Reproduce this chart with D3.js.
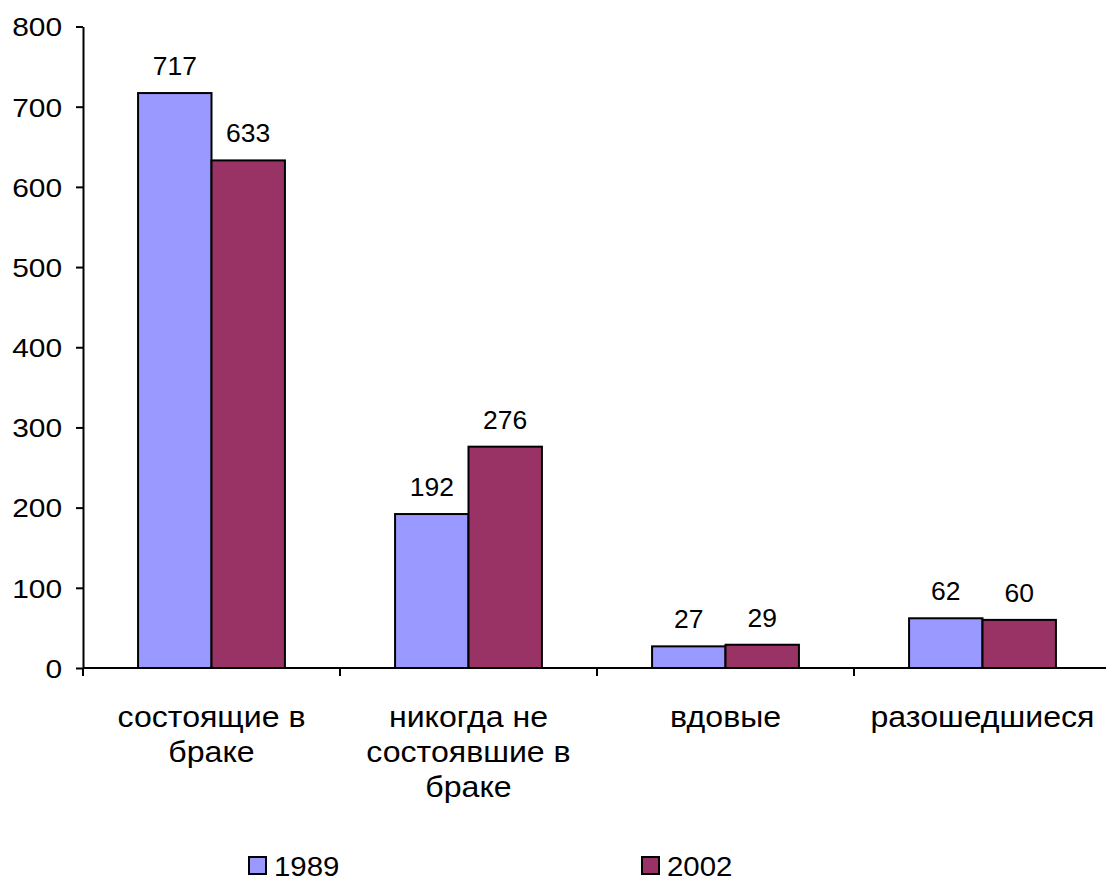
<!DOCTYPE html>
<html><head><meta charset="utf-8">
<script src="https://cdn.jsdelivr.net/npm/d3@7"></script>
<style>
html,body{margin:0;padding:0;background:#fff;}
svg{display:block;font-family:"Liberation Sans",Arial,sans-serif;}
</style></head>
<body>
<svg id="chart" width="1106" height="882"></svg>
<script>
const categories = [
  ["состоящие в", "браке"],
  ["никогда не", "состоявшие в", "браке"],
  ["вдовые"],
  ["разошедшиеся"]
];
const seriesNames = ["1989", "2002"];
const values1989 = [717, 192, 27, 62];
const values2002 = [633, 276, 29, 60];
const yTicks = [0, 100, 200, 300, 400, 500, 600, 700, 800];
const colors = ["#9999FF", "#993366"];

const svg = d3.select("#chart");
const plotLeft = 83, plotRight = 1111, plotTop = 26.5, plotBottom = 668;

const catKeys = categories.map((c, i) => i);
const x = d3.scaleBand().domain(catKeys).range([plotLeft, plotRight]).paddingInner(0).paddingOuter(0);
const x1 = d3.scaleBand().domain(seriesNames).range([0, x.bandwidth()]).paddingInner(0).paddingOuter(0.75);
const y = d3.scaleLinear().domain([0, 800]).range([plotBottom, plotTop]);

const series = [values1989, values2002];

// bars
series.forEach((vals, si) => {
  svg.append("g").selectAll("rect").data(vals).join("rect")
    .attr("x", (d, i) => x(i) + x1(seriesNames[si]))
    .attr("y", d => y(d))
    .attr("width", x1.bandwidth())
    .attr("height", d => y(0) - y(d))
    .attr("fill", colors[si])
    .attr("stroke", "#000")
    .attr("stroke-width", 2);
  svg.append("g").selectAll("text").data(vals).join("text")
    .attr("transform", (d, i) => `translate(${x(i) + x1(seriesNames[si]) + x1.bandwidth() / 2},${y(d) - 18}) scale(1.06,1)`)
    .attr("text-anchor", "middle")
    .attr("font-size", 25)
    .attr("fill", "#000")
    .text(d => d);
});

// y axis
const yAxis = d3.axisLeft(y).tickValues(yTicks).tickSize(7).tickPadding(8).tickSizeOuter(0);
const gy = svg.append("g").attr("transform", `translate(${plotLeft},0)`).call(yAxis);
gy.select(".domain").attr("stroke", "#000").attr("stroke-width", 2);
gy.selectAll(".tick line").attr("stroke", "#000").attr("stroke-width", 2);
gy.selectAll(".tick text")
  .attr("font-size", 26)
  .attr("font-family", "Liberation Sans, Arial, sans-serif")
  .attr("fill", "#000")
  .attr("x", -21 / 1.15)
  .attr("dy", "0.36em")
  .attr("transform", "scale(1.15,1)");

// x axis line
svg.append("line").attr("x1", plotLeft).attr("x2", plotRight).attr("y1", plotBottom).attr("y2", plotBottom)
  .attr("stroke", "#000").attr("stroke-width", 2);
// boundary ticks
const bounds = catKeys.map(i => x(i));
svg.append("g").selectAll("line").data(bounds).join("line")
  .attr("x1", d => d).attr("x2", d => d)
  .attr("y1", plotBottom).attr("y2", plotBottom + 8)
  .attr("stroke", "#000").attr("stroke-width", 2);

// category labels
const catG = svg.append("g").selectAll("text").data(categories).join("text")
  .attr("transform", (d, i) => `translate(${x(i) + x.bandwidth() / 2},0) scale(1.07,1)`)
  .attr("text-anchor", "middle")
  .attr("font-size", 30)
  .attr("fill", "#000");
catG.each(function(lines) {
  d3.select(this).selectAll("tspan").data(lines).join("tspan")
    .attr("x", 0)
    .attr("y", (d, k) => 727 + k * 35)
    .text(d => d);
});

// legend
const legendX = [249, 642];
const lg = svg.append("g").selectAll("g").data(seriesNames).join("g")
  .attr("transform", (d, i) => `translate(${legendX[i]},857)`);
lg.append("rect").attr("width", 17).attr("height", 17)
  .attr("fill", (d, i) => colors[i]).attr("stroke", "#000").attr("stroke-width", 2);
lg.append("text").attr("transform", "translate(25,19) scale(1.05,1)")
  .attr("font-size", 28).attr("fill", "#000").text(d => d);
</script>
</body></html>
